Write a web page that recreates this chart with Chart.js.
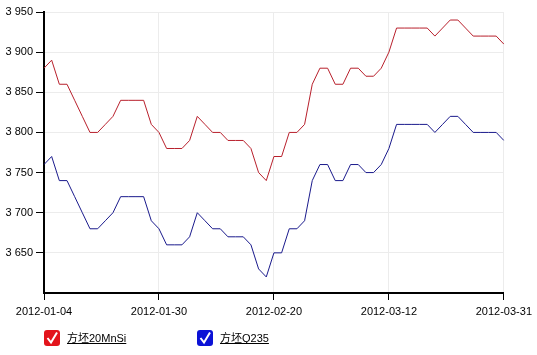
<!DOCTYPE html>
<html>
<head>
<meta charset="utf-8">
<script src="https://cdn.jsdelivr.net/npm/chart.js@4.4.1/dist/chart.umd.min.js"></script>
<style>
  html, body { margin: 0; padding: 0; background: #fff; }
  #wrap { position: relative; width: 537px; height: 355px; }
</style>
</head>
<body>
<div id="wrap"><canvas id="c" width="537" height="355"></canvas></div>
<script>
const dates = [
  '2012-01-04','2012-01-05','2012-01-06','2012-01-09','2012-01-10','2012-01-11','2012-01-12','2012-01-13',
  '2012-01-16','2012-01-17','2012-01-18','2012-01-19','2012-01-20','2012-01-21','2012-01-29','2012-01-30',
  '2012-01-31','2012-02-01','2012-02-02','2012-02-03','2012-02-06','2012-02-07','2012-02-08','2012-02-09',
  '2012-02-10','2012-02-13','2012-02-14','2012-02-15','2012-02-16','2012-02-17','2012-02-20','2012-02-21',
  '2012-02-22','2012-02-23','2012-02-24','2012-02-27','2012-02-28','2012-02-29','2012-03-01','2012-03-02',
  '2012-03-05','2012-03-06','2012-03-07','2012-03-08','2012-03-09','2012-03-12','2012-03-13','2012-03-14',
  '2012-03-15','2012-03-16','2012-03-19','2012-03-20','2012-03-21','2012-03-22','2012-03-23','2012-03-26',
  '2012-03-27','2012-03-28','2012-03-29','2012-03-30','2012-03-31'
];
const series20MnSi = [
  3880,3890,3860,3860,3840,3820,3800,3800,3810,3820,3840,3840,3840,3840,3810,3800,
  3780,3780,3780,3790,3820,3810,3800,3800,3790,3790,3790,3780,3750,3740,3770,3770,
  3800,3800,3810,3860,3880,3880,3860,3860,3880,3880,3870,3870,3880,3900,3930,3930,
  3930,3930,3930,3920,3930,3940,3940,3930,3920,3920,3920,3920,3910
];
const seriesQ235 = [
  3760,3770,3740,3740,3720,3700,3680,3680,3690,3700,3720,3720,3720,3720,3690,3680,
  3660,3660,3660,3670,3700,3690,3680,3680,3670,3670,3670,3660,3630,3620,3650,3650,
  3680,3680,3690,3740,3760,3760,3740,3740,3760,3760,3750,3750,3760,3780,3810,3810,
  3810,3810,3810,3800,3810,3820,3820,3810,3800,3800,3800,3800,3790
];
const seriesNames = ['方坯20MnSi', '方坯Q235'];
const xTickLabels = ['2012-01-04','2012-01-30','2012-02-20','2012-03-12','2012-03-31'];
const yMin = 3600, yMax = 3950, yStep = 50;

const FONT = '"Liberation Sans", Arial, "Noto Sans CJK SC", sans-serif';

const legendPlugin = {
  id: 'checkLegend',
  afterDraw(chart) {
    const ctx = chart.ctx;
    const items = [
      { x: 44, color: '#e3141c' },
      { x: 197, color: '#0b12d6' }
    ];
    const y = 330;
    ctx.save();
    chart.data.datasets.forEach((ds, i) => {
      const it = items[i];
      const s = 16, r = 3;
      ctx.fillStyle = it.color;
      ctx.beginPath();
      ctx.moveTo(it.x + r, y);
      ctx.lineTo(it.x + s - r, y);
      ctx.quadraticCurveTo(it.x + s, y, it.x + s, y + r);
      ctx.lineTo(it.x + s, y + s - r);
      ctx.quadraticCurveTo(it.x + s, y + s, it.x + s - r, y + s);
      ctx.lineTo(it.x + r, y + s);
      ctx.quadraticCurveTo(it.x, y + s, it.x, y + s - r);
      ctx.lineTo(it.x, y + r);
      ctx.quadraticCurveTo(it.x, y, it.x + r, y);
      ctx.fill();
      ctx.strokeStyle = '#fff';
      ctx.lineWidth = 2;
      ctx.beginPath();
      ctx.moveTo(it.x + 3.5, y + 8);
      ctx.lineTo(it.x + 7, y + 12.5);
      ctx.lineTo(it.x + 13, y + 2.5);
      ctx.stroke();
      ctx.font = '11px ' + FONT;
      ctx.fillStyle = '#000';
      ctx.textBaseline = 'alphabetic';
      const tx = it.x + 23;
      ctx.fillText(ds.label, tx, y + 11.5);
      const w = ctx.measureText(ds.label).width;
      ctx.strokeStyle = '#000';
      ctx.lineWidth = 1;
      ctx.beginPath();
      ctx.moveTo(tx, y + 13.5);
      ctx.lineTo(tx + w, y + 13.5);
      ctx.stroke();
    });
    ctx.restore();
  }
};

const fmt = v => String(v).replace(/\B(?=(\d{3})+(?!\d))/g, ' ');

new Chart(document.getElementById('c'), {
  type: 'line',
  data: {
    labels: dates,
    datasets: [
      { label: seriesNames[0], data: series20MnSi, borderColor: '#b8202c', borderWidth: 1, pointRadius: 0, tension: 0, fill: false },
      { label: seriesNames[1], data: seriesQ235, borderColor: '#1a1a8c', borderWidth: 1, pointRadius: 0, tension: 0, fill: false }
    ]
  },
  options: {
    responsive: false,
    animation: false,
    devicePixelRatio: 1,
    layout: { padding: { left: 0, right: 32, top: 12, bottom: 0 } },
    plugins: { legend: { display: false }, tooltip: { enabled: false } },
    scales: {
      x: {
        type: 'category',
        offset: false,
        border: { color: '#000', width: 2 },
        grid: {
          color: c => (xTickLabels.includes(dates[c.index]) ? '#ececec' : 'transparent'),
          tickColor: c => (xTickLabels.includes(dates[c.index]) ? '#000' : 'transparent'),
          tickLength: 7,
          drawOnChartArea: true
        },
        ticks: {
          autoSkip: false,
          maxRotation: 0,
          padding: 5,
          color: '#000',
          font: { family: FONT, size: 11 },
          callback: (v, i) => (xTickLabels.includes(dates[i]) ? dates[i] : '')
        },
        afterFit: s => { s.height = 62; }
      },
      y: {
        min: yMin,
        max: yMax,
        border: { color: '#000', width: 2 },
        grid: {
          color: c => (c.tick && c.tick.value === yMin ? 'transparent' : '#ececec'),
          tickColor: c => (c.tick && c.tick.value === yMin ? 'transparent' : '#000'),
          tickLength: 8
        },
        ticks: {
          stepSize: yStep,
          padding: 3,
          color: '#000',
          font: { family: FONT, size: 11 },
          callback: v => (v === yMin ? '' : fmt(v))
        },
        afterFit: s => { s.width = 44; }
      }
    }
  },
  plugins: [legendPlugin]
});
</script>
</body>
</html>
